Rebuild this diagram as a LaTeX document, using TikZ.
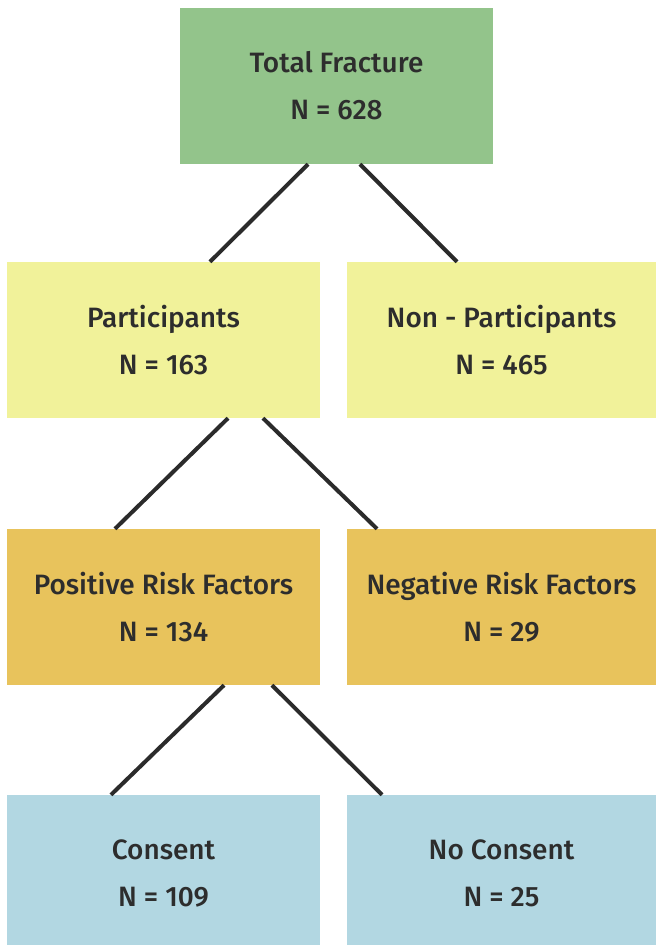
\documentclass[tikz,border=0pt]{standalone}
\usepackage{fontspec}
\setmainfont{Fira Sans Medium}
\usetikzlibrary{calc}
\definecolor{cgreen}{HTML}{93C48B}
\definecolor{cyellow}{HTML}{F1F29A}
\definecolor{corange}{HTML}{E8C35C}
\definecolor{cblue}{HTML}{B2D7E2}
\definecolor{cline}{HTML}{2B2B2B}
\definecolor{ctext}{HTML}{2D2D2D}
\begin{document}
\begin{tikzpicture}[x=1pt,y=-1pt,
  box/.style={rectangle, inner sep=0pt, minimum height=156pt, text=ctext,
    font=\fontsize{28}{47}\selectfont, align=center},
  wbox/.style={box, minimum width=313pt},
  nbox/.style={box, minimum width=309pt},
  conn/.style={draw=cline, line width=4pt}]
\useasboundingbox (0,0) rectangle (656,945);
\clip (0,0) rectangle (656,945);
\node[wbox, fill=cgreen] (top) at (336.5,86) {Total Fracture\\N = 628};
\node[wbox, fill=cyellow] (p) at (163.5,340) {Participants\\N = 163};
\node[nbox, fill=cyellow] (np) at (501.5,340) {Non - Participants\\N = 465};
\node[wbox, fill=corange] (pos) at (163.5,607) {Positive Risk Factors\\N = 134};
\node[nbox, fill=corange] (neg) at (501.5,607) {Negative Risk Factors\\N = 29};
\node[wbox, fill=cblue] (c) at (163.5,873) {Consent\\N = 109};
\node[nbox, fill=cblue] (nc) at (501.5,873) {No Consent\\N = 25};
\draw[conn] ([xshift=-28.5pt]top.south) -- ([xshift=46.5pt]p.north);
\draw[conn] ([xshift=23.5pt]top.south) -- ([xshift=-44.5pt]np.north);
\draw[conn] ([xshift=64.5pt]p.south) -- ([xshift=-48.5pt]pos.north);
\draw[conn] ([xshift=99.5pt]p.south) -- ([xshift=-124.5pt]neg.north);
\draw[conn] ([xshift=60.5pt]pos.south) -- ([xshift=-52.5pt]c.north);
\draw[conn] ([xshift=108.5pt]pos.south) -- ([xshift=-119.5pt]nc.north);
\end{tikzpicture}
\end{document}
